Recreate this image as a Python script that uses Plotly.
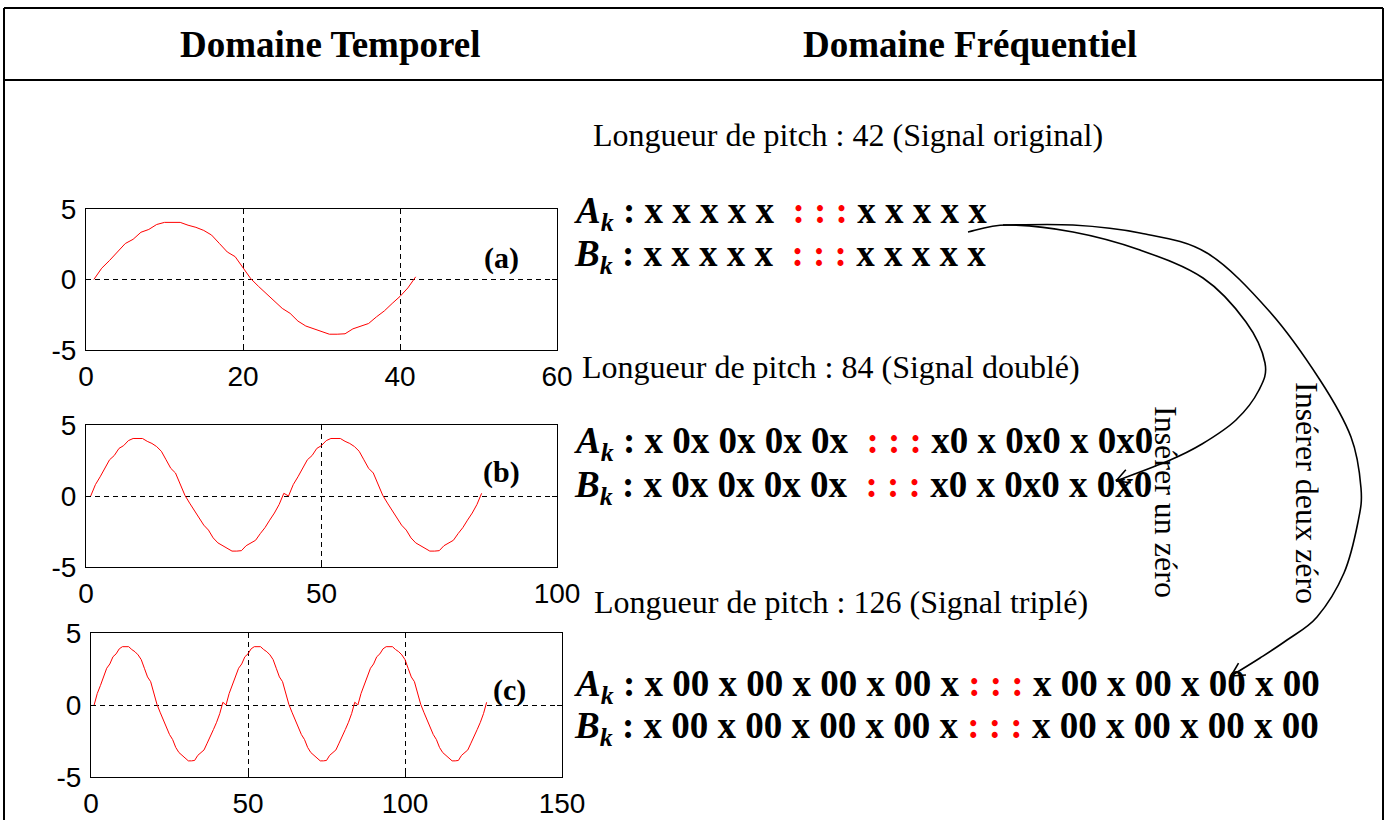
import math
import plotly.graph_objects as go

W, H = 1387, 820

# One pitch period (42 samples) of the voiced signal
periode = [0.0, 0.8, 1.35, 1.95, 2.55, 2.85, 3.35, 3.55, 3.9, 4.05,
           4.05, 4.05, 3.85, 3.7, 3.48, 3.15, 2.55, 1.95, 1.62, 0.85,
           0.05, -0.5, -1.0, -1.55, -2.05, -2.4, -2.95, -3.3, -3.5, -3.7,
           -3.88, -3.88, -3.85, -3.5, -3.3, -3.12, -2.65, -2.23, -1.7, -1.2,
           -0.6, 0.19]

# Original, doubled and tripled signals
n_a = list(range(1, 43))
signal_a = periode
n_b = list(range(1, 85))
signal_b = periode * 2
n_c = list(range(1, 127))
signal_c = periode * 3

x_ticks_a = [0, 20, 40, 60]
x_ticks_b = [0, 50, 100]
x_ticks_c = [0, 50, 100, 150]
y_ticks = [-5, 0, 5]
y_tick_text = ["-5", "0", "5"]

titres = ["Domaine Temporel", "Domaine Fréquentiel"]
longueurs = ["Longueur de pitch : 42 (Signal original)",
             "Longueur de pitch : 84 (Signal doublé)",
             "Longueur de pitch : 126 (Signal triplé)"]
etiquettes = ["(a)", "(b)", "(c)"]

# Coefficient sequences (before / after the red ellipsis)
seq_a = ("x x x x x", "x x x x x")
seq_b = ("x 0x 0x 0x 0x", "x0 x 0x0 x 0x0")
seq_c = ("x 00 x 00 x 00 x 00 x", "x 00 x 00 x 00 x 00")


def px(x):
    return x / W


def py(y):
    return 1 - y / H


SERIF = "Liberation Serif, Times New Roman, serif"
SANS = "Liberation Sans, Arial, sans-serif"

fig = go.Figure()

panels = [
    (n_a, signal_a, [0, 60], x_ticks_a, (86, 557, 209, 350)),
    (n_b, signal_b, [0, 100], x_ticks_b, (86, 557, 425, 567)),
    (n_c, signal_c, [0, 150], x_ticks_c, (91, 562, 633, 777)),
]

axis_common = dict(
    showline=True, linecolor="black", linewidth=1, mirror="ticks",
    ticks="inside", ticklen=5, tickcolor="black",
    showgrid=True, gridcolor="black", gridwidth=1, griddash="5px,4px",
    zeroline=False, fixedrange=True, automargin=False,
    tickfont=dict(family=SANS, size=28, color="black"),
)

layout_axes = {}
for i, (n, s, xr, xt, (x0, x1, y0, y1)) in enumerate(panels, start=1):
    sfx = "" if i == 1 else str(i)
    fig.add_trace(go.Scatter(
        x=n, y=s, mode="lines", line=dict(color="#ff0000", width=1),
        xaxis="x" + sfx, yaxis="y" + sfx, showlegend=False, hoverinfo="skip",
    ))
    layout_axes["xaxis" + sfx] = dict(
        axis_common, domain=[px(x0), px(x1)], range=xr, tickvals=xt,
        anchor="y" + sfx, ticklabelstandoff=1,
    )
    layout_axes["yaxis" + sfx] = dict(
        axis_common, domain=[py(y1), py(y0)], range=[-5, 5],
        tickvals=y_ticks, ticktext=y_tick_text, anchor="x" + sfx,
        ticklabelstandoff=3,
    )

fig.update_layout(**layout_axes)

shapes = []
# Outer frame and header separator
for (xa, ya, xb, yb) in [(4, 8, 4, 820), (4, 8, 1383, 8),
                         (1383, 8, 1383, 820), (4, 80, 1383, 80)]:
    shapes.append(dict(type="line", xref="paper", yref="paper",
                       x0=px(xa), y0=py(ya), x1=px(xb), y1=py(yb),
                       line=dict(color="black", width=2)))


def smooth_path(pts):
    d = "M {:.5f},{:.5f}".format(px(pts[0][0]), py(pts[0][1]))
    for i in range(len(pts) - 1):
        p0 = pts[i - 1] if i > 0 else pts[i]
        p1 = pts[i]
        p2 = pts[i + 1]
        p3 = pts[i + 2] if i + 2 < len(pts) else pts[i + 1]
        c1 = (p1[0] + (p2[0] - p0[0]) / 6, p1[1] + (p2[1] - p0[1]) / 6)
        c2 = (p2[0] - (p3[0] - p1[0]) / 6, p2[1] - (p3[1] - p1[1]) / 6)
        d += " C {:.5f},{:.5f} {:.5f},{:.5f} {:.5f},{:.5f}".format(
            px(c1[0]), py(c1[1]), px(c2[0]), py(c2[1]), px(p2[0]), py(p2[1]))
    return d


def arrow_head(tip, prev, length=15, angle=28):
    ux, uy = tip[0] - prev[0], tip[1] - prev[1]
    norm = math.hypot(ux, uy)
    ux, uy = ux / norm, uy / norm
    d = ""
    for sgn in (1, -1):
        a = math.radians(angle * sgn)
        bx = -(ux * math.cos(a) - uy * math.sin(a)) * length
        by = -(ux * math.sin(a) + uy * math.cos(a)) * length
        d += "M {:.5f},{:.5f} L {:.5f},{:.5f} ".format(
            px(tip[0] + bx), py(tip[1] + by), px(tip[0]), py(tip[1]))
    return d


courbe_un = [(968, 232), (1007, 225), (1073, 232), (1140, 250), (1203, 278),
             (1246, 322), (1265, 363), (1259, 390), (1236, 420), (1202, 444),
             (1168, 461), (1116, 481)]
courbe_deux = [(1003, 225), (1073, 225), (1140, 233), (1207, 253), (1270, 312),
               (1320, 380), (1351, 437), (1361, 488), (1358, 522), (1344, 573),
               (1317, 617), (1287, 640), (1260, 658), (1231, 676)]

for pts in (courbe_un, courbe_deux):
    shapes.append(dict(type="path", xref="paper", yref="paper",
                       path=smooth_path(pts),
                       line=dict(color="black", width=1.6)))
    shapes.append(dict(type="path", xref="paper", yref="paper",
                       path=arrow_head(pts[-1], pts[-2]),
                       line=dict(color="black", width=1.6)))

annotations = []


def add_text(text, x, y, size, xanchor="center", family=SERIF, angle=0):
    annotations.append(dict(
        text=text, x=px(x), y=py(y), xref="paper", yref="paper",
        xanchor=xanchor, yanchor="middle", showarrow=False, textangle=angle,
        font=dict(family=family, size=size, color="black"),
    ))


add_text("<b>" + titres[0] + "</b>", 330, 44, 37)
add_text("<b>" + titres[1] + "</b>", 970, 44, 37)

add_text(longueurs[0], 591, 135, 32, xanchor="left")
add_text(longueurs[1], 580, 367, 32, xanchor="left")
add_text(longueurs[2], 592, 602, 32, xanchor="left")

add_text("<b>" + etiquettes[0] + "</b>", 501, 258, 30)
add_text("<b>" + etiquettes[1] + "</b>", 501, 472, 30)
add_text("<b>" + etiquettes[2] + "</b>", 509, 690, 30)

NB = "\u00a0"
RED = "<span style='color:#ff0000'>: : :</span>"


def row(letter, seq, gap_before, gap_after):
    return ("<b><i>" + letter + "</i><sub><i>k</i></sub> : " + seq[0]
            + NB * gap_before + " " + RED + NB * gap_after + " " + seq[1]
            + "</b>")


for letter, y in (("A", 213), ("B", 256)):
    add_text(row(letter, seq_a, 1, 0), 572, y, 37, xanchor="left")
for letter, y in (("A", 443), ("B", 487)):
    add_text(row(letter, seq_b, 1, 0), 572, y, 37, xanchor="left")
for letter, y in (("A", 686), ("B", 728)):
    add_text(row(letter, seq_c, 0, 0), 572, y, 37, xanchor="left")

add_text("Insérer un zéro", 1166, 502, 32, angle=90)
add_text("Insérer deux zéro", 1307, 493, 32, angle=90)

fig.update_layout(
    width=W, height=H, margin=dict(l=0, r=0, t=0, b=0, pad=0),
    paper_bgcolor="white", plot_bgcolor="white",
    shapes=shapes, annotations=annotations, showlegend=False,
)

fig.write_html("out.html", config={"displayModeBar": False})
